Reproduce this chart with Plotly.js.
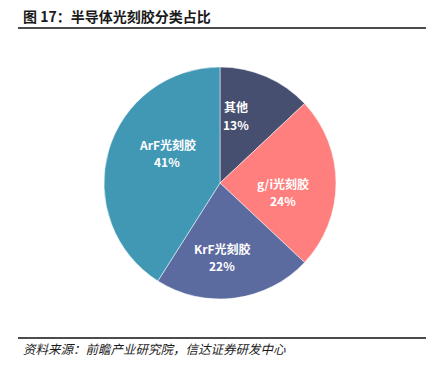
<!DOCTYPE html>
<html><head><meta charset="utf-8">
<script src="https://cdn.plot.ly/plotly-3.0.1.min.js"></script>
<style>html,body{margin:0;padding:0;background:#fff;}#chart{width:435px;height:370px;}</style>
</head><body><div id="chart"></div>
<script>
const categories = ["其他", "g/i光刻胶", "KrF光刻胶", "ArF光刻胶"];
const shares = [13, 24, 22, 41];
const sliceColors = ["#464f6f", "#fe7f7e", "#5b6a9f", "#4198b5"];
const chartTitle = "图 17：半导体光刻胶分类占比";
const sourceNote = "资料来源：前瞻产业研究院，信达证券研发中心";

const W = 435, H = 370;
const cx = 220, cy = 183, r = 116;
// label anchor positions in pixels (layout only)
const labelPos = [[236, 107], [283, 183], [222, 248], [167, 144]];

const trace = {
  type: "pie",
  labels: categories,
  values: shares,
  sort: false,
  direction: "clockwise",
  rotation: 0,
  marker: {colors: sliceColors, line: {color: "#ffffff", width: 0.5}},
  textinfo: "none",
  hoverinfo: "none",
  showlegend: false,
  domain: {x: [(cx - r) / W, (cx + r) / W], y: [(H - cy - r) / H, (H - cy + r) / H]}
};

const labelFont = {color: "#ffffff", size: 12, family: "Noto Sans CJK SC, Noto Sans, sans-serif"};
const annotations = [
  {text: "<b>" + chartTitle + "</b>", xref: "paper", yref: "paper", x: 21 / W, y: 1 - 16 / H, xanchor: "left", yanchor: "middle", showarrow: false,
   font: {size: 14, color: "#1a1a1a", family: "Noto Sans CJK SC, sans-serif"}},
  {text: "<i>" + sourceNote + "</i>", xref: "paper", yref: "paper", x: 21 / W, y: 1 - 348 / H, xanchor: "left", yanchor: "middle", showarrow: false,
   font: {size: 12.5, color: "#1a1a1a", family: "Noto Sans CJK SC, sans-serif"}}
];
categories.forEach((c, i) => {
  const [px, py] = labelPos[i];
  annotations.push({text: "<b>" + c + "</b>", xref: "paper", yref: "paper", x: px / W, y: 1 - py / H,
    xanchor: "center", yanchor: "middle", showarrow: false, font: labelFont});
  annotations.push({text: "<b>" + shares[i] + "%</b>", xref: "paper", yref: "paper", x: px / W, y: 1 - (py + 17) / H,
    xanchor: "center", yanchor: "middle", showarrow: false, font: labelFont});
});

const layout = {
  width: W, height: H,
  margin: {l: 0, r: 0, t: 0, b: 0},
  paper_bgcolor: "#ffffff",
  showlegend: false,
  shapes: [
    {type: "line", xref: "paper", yref: "paper", x0: 18 / W, x1: 426 / W, y0: 1 - 28 / H, y1: 1 - 28 / H, line: {color: "#111111", width: 1.6}},
    {type: "line", xref: "paper", yref: "paper", x0: 18 / W, x1: 426 / W, y0: 1 - 338 / H, y1: 1 - 338 / H, line: {color: "#111111", width: 1.6}}
  ],
  annotations: annotations
};

Plotly.newPlot("chart", [trace], layout, {displayModeBar: false, staticPlot: true});
</script>
</body></html>
